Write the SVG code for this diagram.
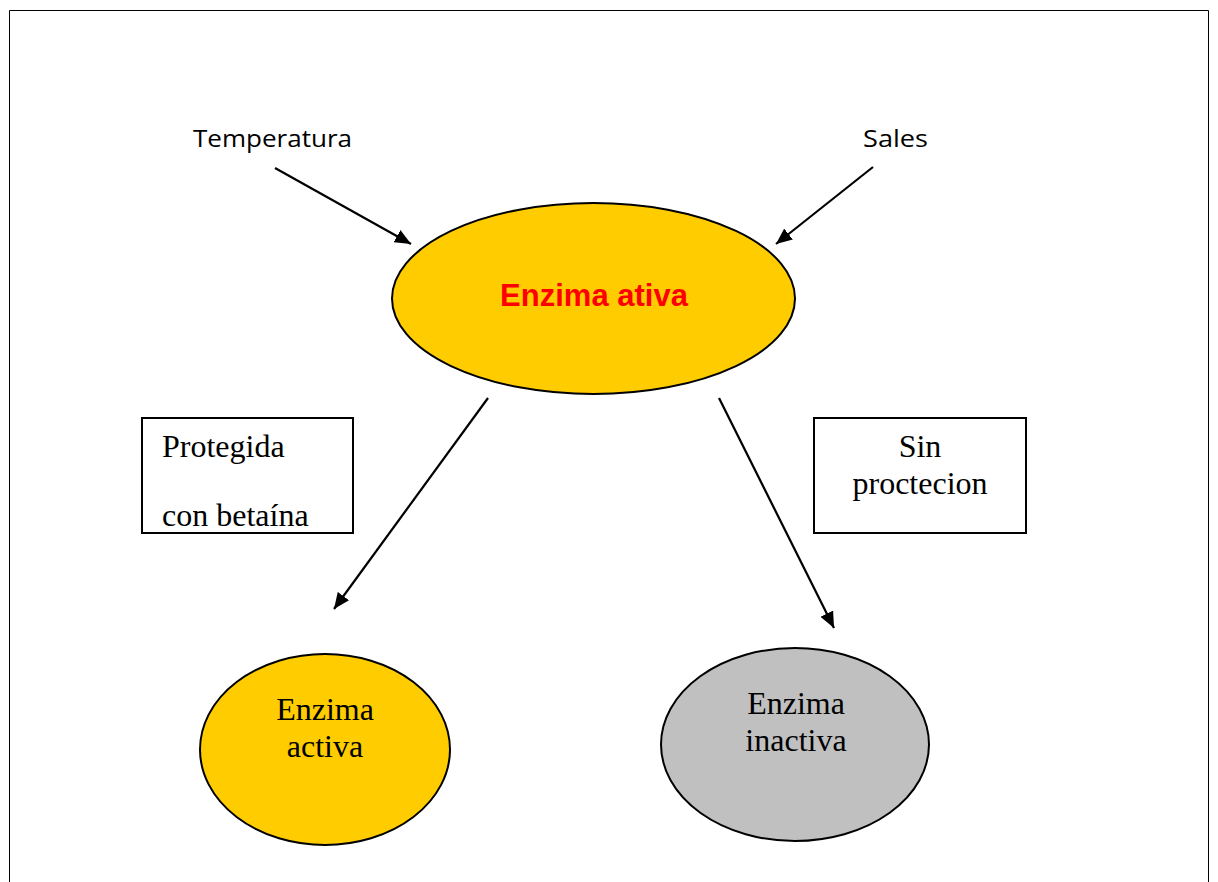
<svg xmlns="http://www.w3.org/2000/svg" width="1218" height="882" viewBox="0 0 1218 882">
  <style>
    .frame { fill: none; stroke: #000; stroke-width: 1; }
    .node { stroke: #000; stroke-width: 2; }
    .gold { fill: #FFCC00; }
    .grey { fill: #C0C0C0; }
    .box { fill: #fff; stroke: #000; stroke-width: 2; }
    .edge { stroke: #000; stroke-width: 2.2; fill: none; marker-end: url(#arrow); }
    .serif { font-family: "Liberation Serif", "Times New Roman", serif; font-size: 32px; fill: #000; }
    .hand { font-family: "Open Sans", "DejaVu Sans", sans-serif; font-size: 23px; fill: #000; }
    .title { font-family: "Liberation Sans", Arial, sans-serif; font-size: 31px; font-weight: bold; fill: #FF0000; }
  </style>
  <defs>
    <marker id="arrow" markerUnits="userSpaceOnUse" markerWidth="18" markerHeight="14" refX="16" refY="7" orient="auto">
      <path d="M0,0 L16,7 L0,14 z" fill="#000"/>
    </marker>
  </defs>

  <rect width="1218" height="882" fill="#fff"/>
  <!-- page frame, open at the bottom -->
  <path class="frame" d="M9.5,890 V10.5 H1208.5 V890"/>

  <!-- connectors -->
  <g id="connectors">
    <line class="edge" x1="275" y1="168" x2="411" y2="244"/>
    <line class="edge" x1="873" y1="167" x2="776" y2="244"/>
    <line class="edge" x1="488" y1="398" x2="334" y2="609"/>
    <line class="edge" x1="719" y1="398" x2="834" y2="628"/>
  </g>

  <g id="temperatura">
    <text class="hand" x="193" y="147" textLength="159" lengthAdjust="spacingAndGlyphs">Temperatura</text>
  </g>
  <g id="sales">
    <text class="hand" x="863" y="147" textLength="65" lengthAdjust="spacingAndGlyphs">Sales</text>
  </g>

  <g id="enzima-ativa">
    <ellipse class="node gold" cx="593.5" cy="298.5" rx="201.5" ry="95.5"/>
    <text class="title" x="594" y="306" text-anchor="middle">Enzima ativa</text>
  </g>

  <g id="protegida">
    <rect class="box" x="142" y="418" width="211" height="115"/>
    <text class="serif" x="162" y="457">Protegida</text>
    <text class="serif" x="162" y="526">con betaína</text>
  </g>

  <g id="sin-proteccion">
    <rect class="box" x="814" y="418" width="212" height="115"/>
    <text class="serif" x="920" y="457" text-anchor="middle">Sin</text>
    <text class="serif" x="920" y="494" text-anchor="middle">proctecion</text>
  </g>

  <g id="enzima-activa">
    <ellipse class="node gold" cx="325" cy="749.5" rx="125" ry="95.5"/>
    <text class="serif" x="325" y="720" text-anchor="middle">Enzima</text>
    <text class="serif" x="325" y="757" text-anchor="middle">activa</text>
  </g>

  <g id="enzima-inactiva">
    <ellipse class="node grey" cx="795" cy="744.5" rx="134" ry="96.5"/>
    <text class="serif" x="796" y="714" text-anchor="middle">Enzima</text>
    <text class="serif" x="796" y="751" text-anchor="middle">inactiva</text>
  </g>
</svg>
